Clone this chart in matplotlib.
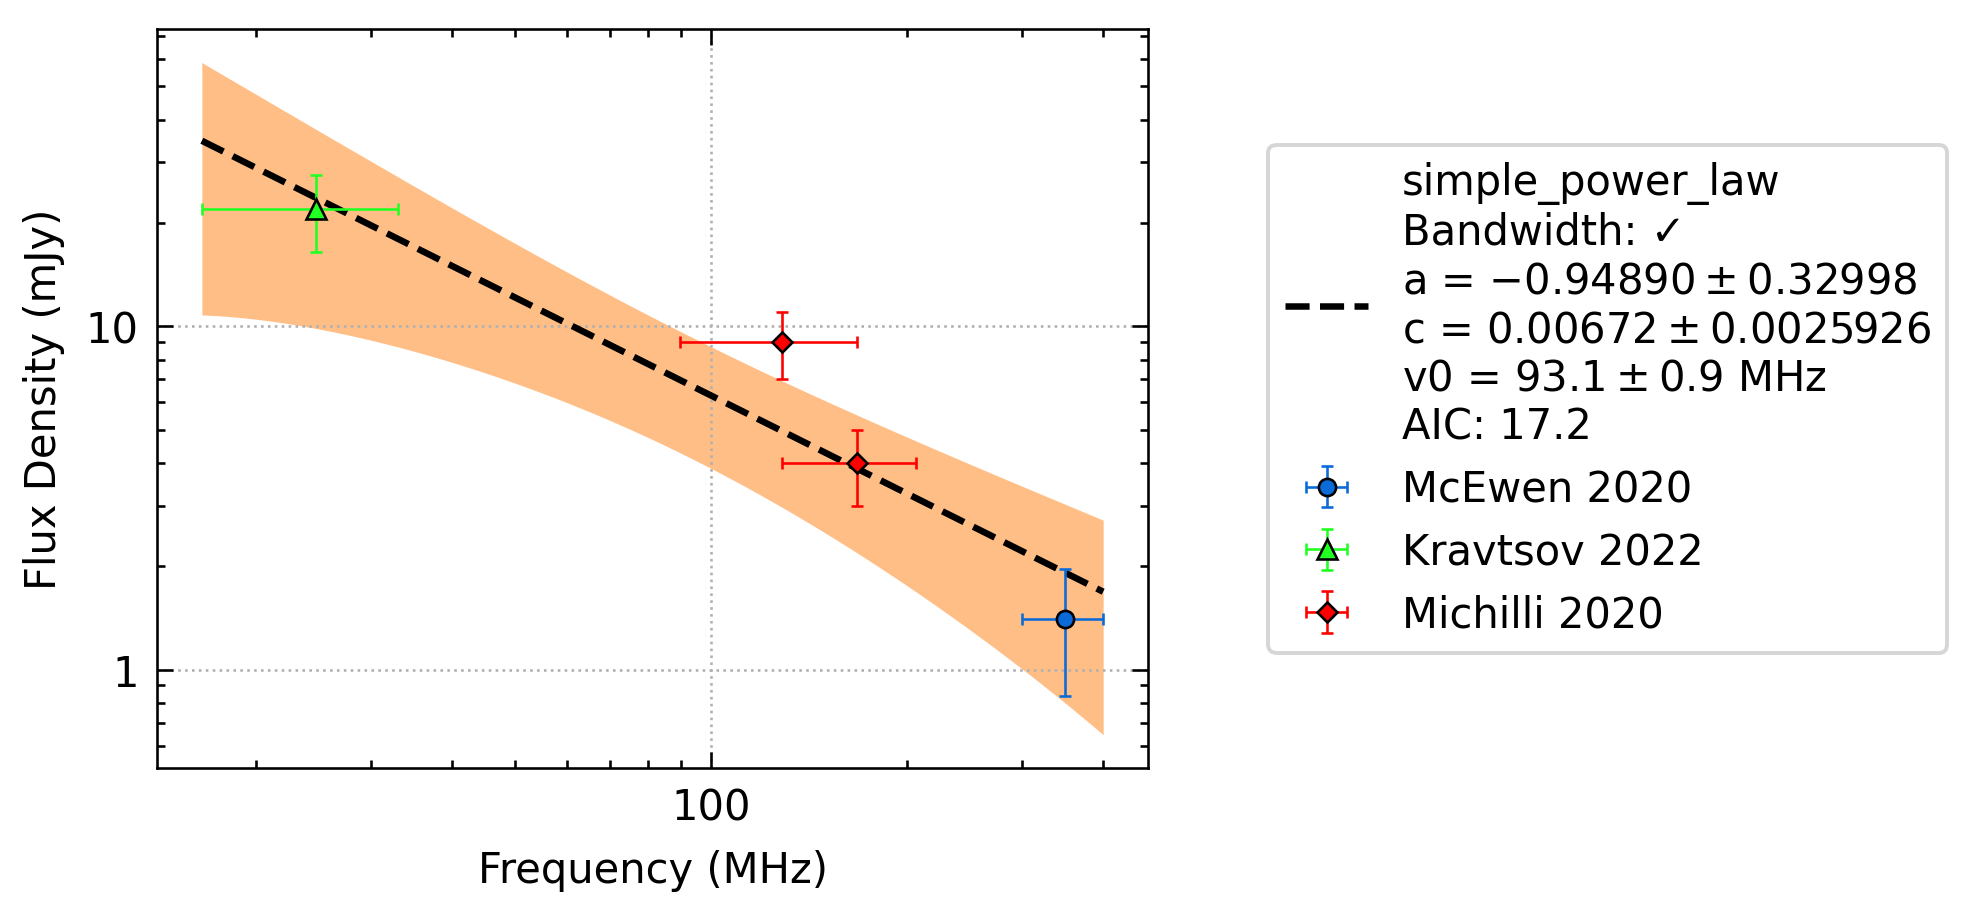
import numpy as np
import matplotlib
matplotlib.use("Agg")
import matplotlib.pyplot as plt
from matplotlib.ticker import FormatStrFormatter, NullFormatter

# measured flux densities (MHz, mJy)
labels = ["McEwen 2020", "Kravtsov 2022", "Michilli 2020"]
freq = [[350.0], [24.75], [128.5, 167.5]]
freq_err = [[50.0], [8.25], [39.0, 39.0]]
flux = [[1.4], [22.0], [9.0, 4.0]]
flux_err = [[0.56], [5.5], [2.0, 1.0]]
markers = ["o", "^", "D"]
msizes = [3.3, 4.0, 2.6]
colors = ["#0a6ad8", "#22ff22", "#ff0000"]

# fit result (simple power law), c in Jy
a, a_err = -0.94890, 0.32998
c, c_err = 0.00672, 0.0025926
v0, v0_err = 93.1, 0.9
aic = 17.2

plt.rcParams.update({
    "font.size": 8,
    "axes.linewidth": 0.5,
    "xtick.direction": "in",
    "ytick.direction": "in",
    "xtick.top": True,
    "ytick.right": True,
    "xtick.major.size": 3,
    "ytick.major.size": 3,
    "xtick.minor.size": 1.5,
    "ytick.minor.size": 1.5,
    "xtick.major.width": 0.5,
    "ytick.major.width": 0.5,
    "xtick.minor.width": 0.5,
    "ytick.minor.width": 0.5,
    "xtick.minor.visible": True,
    "ytick.minor.visible": True,
})

fig = plt.figure(figsize=(1977 / 375, 914 / 375), dpi=375)
ax = fig.add_axes([0.0793, 0.1583, 0.5015, 0.8089])

# model curve over the full bandwidth of the data
lo = min(np.min(np.array(f) - np.array(e)) for f, e in zip(freq, freq_err))
hi = max(np.max(np.array(f) + np.array(e)) for f, e in zip(freq, freq_err))
nu = np.geomspace(lo, hi, 300)
x = nu / v0
model = c * x ** a * 1e3
sigma = np.sqrt((x ** a * c_err) ** 2
                + (c * x ** a * np.log(x) * a_err) ** 2
                + (c * a * x ** a / v0 * v0_err) ** 2) * 1e3

ax.fill_between(nu, model - sigma, model + sigma, color="C1", alpha=0.5, lw=0)
fit_label = ("simple_power_law\nBandwidth: \u2713\n"
             f"a = ${a:.5f} \\pm {a_err:.5f}$\n"
             f"c = ${c:.5f} \\pm {c_err}$\n"
             f"v0 = ${v0} \\pm {v0_err}$ MHz\n"
             f"AIC: {aic}")
ax.plot(nu, model, "k--", lw=1.25, label=fit_label)

for f, fe, s, se, m, ms, col, lab in zip(freq, freq_err, flux, flux_err,
                                         markers, msizes, colors, labels):
    ax.errorbar(f, s, xerr=fe, yerr=se, fmt=m, ms=ms, mfc=col, mec="k",
                mew=0.5, ecolor=col, elinewidth=0.5, capsize=1.2,
                capthick=0.5, label=lab)

ax.set_xscale("log")
ax.set_yscale("log")
for axis in (ax.xaxis, ax.yaxis):
    axis.set_major_formatter(FormatStrFormatter("%g"))
    axis.set_minor_formatter(NullFormatter())
ax.grid(True, which="major", ls=":", lw=0.5, color="#b0b0b0")
ax.set_xlabel("Frequency (MHz)")
ax.set_ylabel("Flux Density (mJy)")

leg = ax.legend(loc="center left", bbox_to_anchor=(1.1, 0.5))
leg.get_frame().set_linewidth(0.75)

fig.savefig("out.png", dpi=375)
